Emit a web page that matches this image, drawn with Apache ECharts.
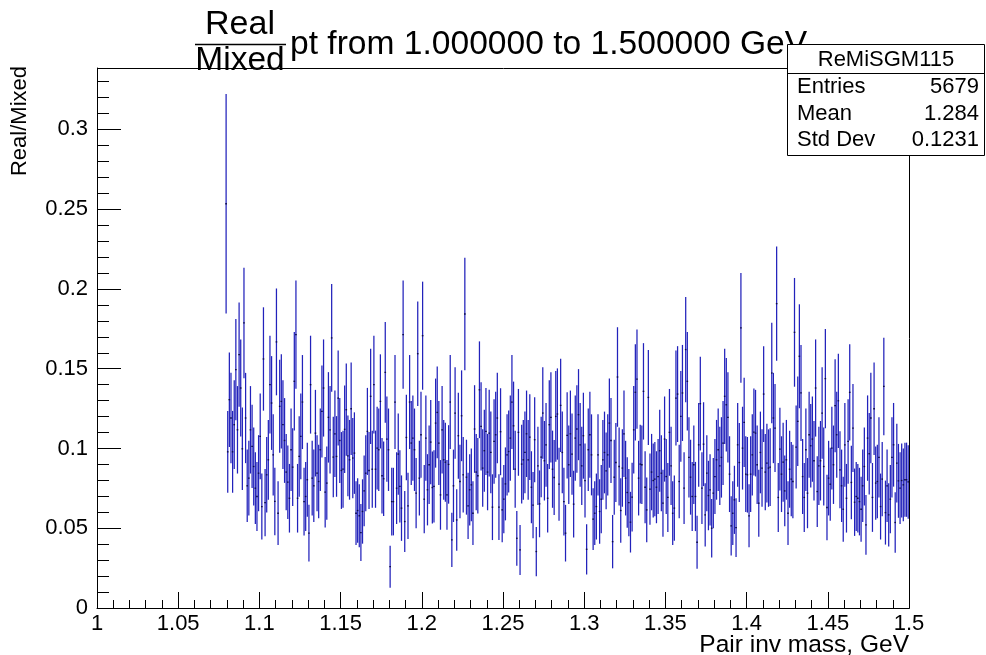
<!DOCTYPE html>
<html>
<head>
<meta charset="utf-8">
<script src="https://cdn.jsdelivr.net/npm/echarts@6/dist/echarts.min.js"></script>
<style>
html,body{margin:0;padding:0;background:#fff;}
#chart{width:986px;height:655px;}
</style>
</head>
<body>
<div id="chart"></div>
<script>
// Histogram binning (GeV)
const firstBinLow = 1.079;
const binWidth = 0.001;

// Real/Mixed ratio per bin (segments in mass order)
const ratioSeg1 = [0.2534,0.0979,0.1306,0.1191,0.0979,0.1149,0.1494,0.1117,0.1588,0.1379,0.0998,0.1787,0.1191,0.0766,0.0814,0.1117,0.1013,0.0887,0.0751,0.0699,0.0845,0.1076,0.0636,0.1561,0.0661,0.0835,0.0929,0.1400,0.1285,0.0960,0.0668];
const ratioSeg2 = [0.1668,0.0594,0.1264,0.1295,0.1149,0.1050,0.0852,0.0789,0.0688,0.0992,0.0883,0.1421,0.1714,0.0688,0.0950,0.1076,0.1291,0.0667,0.0699,0.0804,0.0469,0.1400,0.0814,0.0766,0.1096,0.0845,0.0793,0.0992,0.1232,0.1379,0.0726,0.0783,0.1195,0.1117,0.1693,0.0946];
const ratioSeg3 = [0.1092,0.0950,0.1316,0.1050,0.0862,0.0870,0.1120,0.1243,0.0954,0.0929,0.1249,0.0940,0.0971,0.0594,0.0611,0.0578,0.0473,0.0605,0.0734,0.0845,0.1107,0.0862,0.1327,0.0870,0.1400,0.0870,0.1002,0.0992,0.1295,0.0829,0.0810,0.1477,0.1059,0.0992,0.0259,0.0667];
const ratioSeg4 = [0.0667,0.1291,0.0751,0.0965,0.0762,0.0626,0.1714,0.0542,0.1069,0.0640,0.1291,0.1034,0.1065,0.0992,0.0720,0.1594,0.0814,0.1086,0.1707,0.0682,0.1065,0.0741,0.0898,0.1040,0.0755,0.0762,0.1159,0.1226,0.1034,0.0709,0.1117,0.0929,0.0914,0.0709,0.0900,0.1291];
const ratioSeg5 = [0.0427,0.0766,0.1222,0.0552,0.1080,0.0793,0.1205,0.0835,0.1843,0.0820,0.0640,0.0741,0.0772,0.0594,0.1122,0.0852,0.0829,0.1368,0.1138,0.0877,0.0986,0.1107,0.0852,0.1096,0.0975,0.0632,0.1044,0.1086,0.1191,0.0632,0.1105,0.0615,0.0682,0.0778,0.0960,0.0981];
const ratioSeg6 = [0.1065,0.1291,0.1142,0.0870,0.0437,0.1101,0.0364,0.0902,0.0929,0.0975,0.1092,0.0929,0.1071,0.0757,0.0645,0.1055,0.0354,0.0891,0.0653,0.0946,0.1222,0.0923,0.1023,0.0688,0.1149,0.1195,0.0870,0.0818,0.1201,0.1216,0.0776,0.1270,0.0975,0.0667,0.0469];
const ratioSeg7 = [0.1082,0.0898,0.1092,0.0965,0.0651,0.1065,0.1122,0.1212,0.1023,0.0891,0.1080,0.0799,0.0368,0.0992,0.1086,0.0960,0.0557,0.0594,0.0636,0.0960,0.0605,0.0682,0.0929,0.0975,0.0860,0.0960,0.1159,0.1050,0.0416,0.0820,0.0912,0.1448,0.0887,0.0611,0.0877,0.1092];
const ratioSeg8 = [0.0814,0.0724,0.0661,0.0538,0.0695,0.1117,0.1352,0.1435,0.0814,0.0902,0.0898,0.1358,0.0757,0.0615,0.1320,0.0745,0.0852,0.0799,0.0808,0.0757,0.0824,0.0986,0.0845,0.0657,0.1059,0.0824,0.0693,0.1101,0.0891,0.0594,0.0626,0.1316,0.1341,0.0793,0.1201,0.1348];
const ratioSeg9 = [0.0751,0.1620,0.1421,0.0944,0.0820,0.0699,0.0898,0.0699,0.0412,0.1023,0.1281,0.0751,0.1027,0.0584,0.0845,0.0705,0.0741,0.0500,0.0720,0.0824,0.0929,0.0992,0.0891,0.0944,0.1034,0.1327,0.1274,0.1195,0.0839,0.0515,0.0594,0.0678,0.0504,0.1023,0.0912];
const ratioSeg10 = [0.1756,0.1002,0.1163,0.0839,0.0835,0.0578,0.0839,0.0960,0.1103,0.1096,0.0898,0.0657,0.0975,0.0877,0.1341,0.0852,0.0908,0.0877,0.0883,0.1473,0.1191,0.1128,0.1908,0.0693,0.0996,0.0839,0.0914,0.0734,0.0929,0.0594,0.0870,0.0808,0.0793,0.1728,0.1009,0.1170];
const ratioSeg11 = [0.1578,0.1348,0.0824,0.0693,0.0992,0.0720,0.1086,0.1017,0.1059,0.0923,0.1379,0.0730,0.0891,0.0923,0.1222,0.0887,0.1438,0.0630,0.0814,0.0776,0.1002,0.0898,0.1268,0.1086,0.1299,0.0866,0.0766,0.0619,0.1023,0.0688,0.1044,0.1352,0.0787,0.1128,0.0663];
const ratioSeg12 = [0.0699,0.0688,0.0667,0.0619,0.0766,0.0887,0.0521,0.1065,0.0967,0.1191,0.0693,0.1249,0.0783,0.0793,0.0944,0.0636,0.0808,0.1389,0.0598,0.0766,0.0584,0.0682,0.0944,0.1023,0.0536,0.0908,0.0797,0.0751,0.0799,0.0772,0.0804,0.0804,0.0790];

// Error bar half-lengths: statistical, ~ scale*sqrt(value); first bin read separately
const errScale = 0.082;
const errOverrides = {0: 0.0688};

// Stats box text
const statsName = 'ReMiSGM115';
const statsRows = [['Entries','5679'],['Mean','1.284'],['Std Dev','0.1231']];

// Axis ticks
const xMin = 1.0, xMax = 1.5, xStep = 0.05;
const yMin = 0, yMax = 0.3385, yStep = 0.05;

const ratio = [].concat(ratioSeg1,ratioSeg2,ratioSeg3,ratioSeg4,ratioSeg5,ratioSeg6,ratioSeg7,ratioSeg8,ratioSeg9,ratioSeg10,ratioSeg11,ratioSeg12);
const points = ratio.map(function(v,i){
  const x = firstBinLow + (i+0.5)*binWidth;
  const e = (errOverrides[i] !== undefined) ? errOverrides[i] : errScale*Math.sqrt(v);
  return [x, v, e];
});

const FONT = '"Liberation Sans", Arial, Helvetica, sans-serif';
const chart = echarts.init(document.getElementById('chart'), null, {renderer:'canvas'});

const G = {left:97, top:68, width:812, height:540};

const statsX = 787, statsY = 44, statsW = 198, statsH = 111;
const statsGraphics = [
  {type:'rect', shape:{x:statsX+0.5, y:statsY+0.5, width:statsW-1, height:statsH}, style:{fill:'#fff', stroke:'#000', lineWidth:1}, z:100},
  {type:'text', x:statsX+statsW/2, y:statsY+16, style:{text:statsName, font:'22px '+FONT, fill:'#000', textAlign:'center', textVerticalAlign:'middle'}, z:101},
  {type:'line', shape:{x1:statsX, y1:statsY+29.5, x2:statsX+statsW, y2:statsY+29.5}, style:{stroke:'#000', lineWidth:1}, z:101}
];
statsRows.forEach(function(r,k){
  const yy = statsY + 43 + k*26.5;
  statsGraphics.push({type:'text', x:statsX+10, y:yy, style:{text:r[0], font:'22px '+FONT, fill:'#000', textAlign:'left', textVerticalAlign:'middle'}, z:101});
  statsGraphics.push({type:'text', x:statsX+statsW-6, y:yy, style:{text:r[1], font:'22px '+FONT, fill:'#000', textAlign:'right', textVerticalAlign:'middle'}, z:101});
});

const option = {
  animation:false,
  backgroundColor:'#fff',
  grid:{left:G.left, top:G.top, width:G.width, height:G.height, containLabel:false},
  xAxis:{
    type:'value', min:xMin, max:xMax, interval:xStep,
    axisLine:{show:true, onZero:false, lineStyle:{color:'#000', width:1}},
    axisTick:{show:true, inside:true, length:16, lineStyle:{color:'#000'}},
    minorTick:{show:true, splitNumber:5, length:8, lineStyle:{color:'#000'}},
    axisLabel:{color:'#000', fontSize:22, fontFamily:FONT, margin:5,
      formatter:function(v){ return String(Math.round(v*100)/100); }},
    splitLine:{show:false}
  },
  yAxis:{
    type:'value', min:yMin, max:yMax, interval:yStep,
    axisLine:{show:true, onZero:false, lineStyle:{color:'#000', width:1}},
    axisTick:{show:true, inside:true, length:24, lineStyle:{color:'#000'}},
    minorTick:{show:true, splitNumber:5, length:12, lineStyle:{color:'#000'}},
    axisLabel:{color:'#000', fontSize:22, fontFamily:FONT, margin:9,
      formatter:function(v){ const r=Math.round(v*100)/100; return (Math.abs(v/yStep-Math.round(v/yStep))<1e-6)? String(r):''; }},
    splitLine:{show:false}
  },
  series:[{
    type:'custom',
    clip:true,
    data:points,
    encode:{x:0, y:1},
    renderItem:function(params, api){
      const x = api.value(0), v = api.value(1), e = api.value(2);
      const p = api.coord([x, v]);
      const t = api.coord([x, v+e]);
      const b = api.coord([x, Math.max(v-e, 0)]);
      const hw = api.size([binWidth, 0])[0]/2;
      return {type:'group', children:[
        {type:'line', shape:{x1:p[0], y1:t[1], x2:p[0], y2:b[1]}, style:{stroke:'#2222bb', lineWidth:1.25}},
        {type:'line', shape:{x1:p[0]-hw, y1:p[1], x2:p[0]+hw, y2:p[1]}, style:{stroke:'#0c0c45', lineWidth:1.3}}
      ]};
    }
  }],
  graphic:[
    {type:'rect', shape:{x:G.left+0.5, y:G.top+0.5, width:G.width, height:G.height}, style:{fill:'none', stroke:'#000', lineWidth:1}, z:50},
    // title: fraction Real/Mixed + rest
    {type:'text', x:240, y:25, style:{text:'Real', font:'34px '+FONT, fill:'#000', textAlign:'center', textVerticalAlign:'middle'}, z:60},
    {type:'line', shape:{x1:195, y1:44.5, x2:286, y2:44.5}, style:{stroke:'#000', lineWidth:1.5}, z:60},
    {type:'text', x:240, y:61, style:{text:'Mixed', font:'33.5px '+FONT, fill:'#000', textAlign:'center', textVerticalAlign:'middle'}, z:60},
    {type:'text', x:290, y:45, style:{text:'pt from 1.000000 to 1.500000 GeV', font:'33.6px '+FONT, fill:'#000', textAlign:'left', textVerticalAlign:'middle'}, z:60},
    // axis titles
    {type:'text', x:909, y:645, style:{text:'Pair inv mass, GeV', font:'24.5px '+FONT, fill:'#000', textAlign:'right', textVerticalAlign:'middle'}, z:60},
    {type:'text', x:20, y:66, rotation:Math.PI/2, style:{text:'Real/Mixed', font:'22px '+FONT, fill:'#000', textAlign:'right', textVerticalAlign:'middle'}, z:60}
  ].concat(statsGraphics)
};
chart.setOption(option);
</script>
</body>
</html>
